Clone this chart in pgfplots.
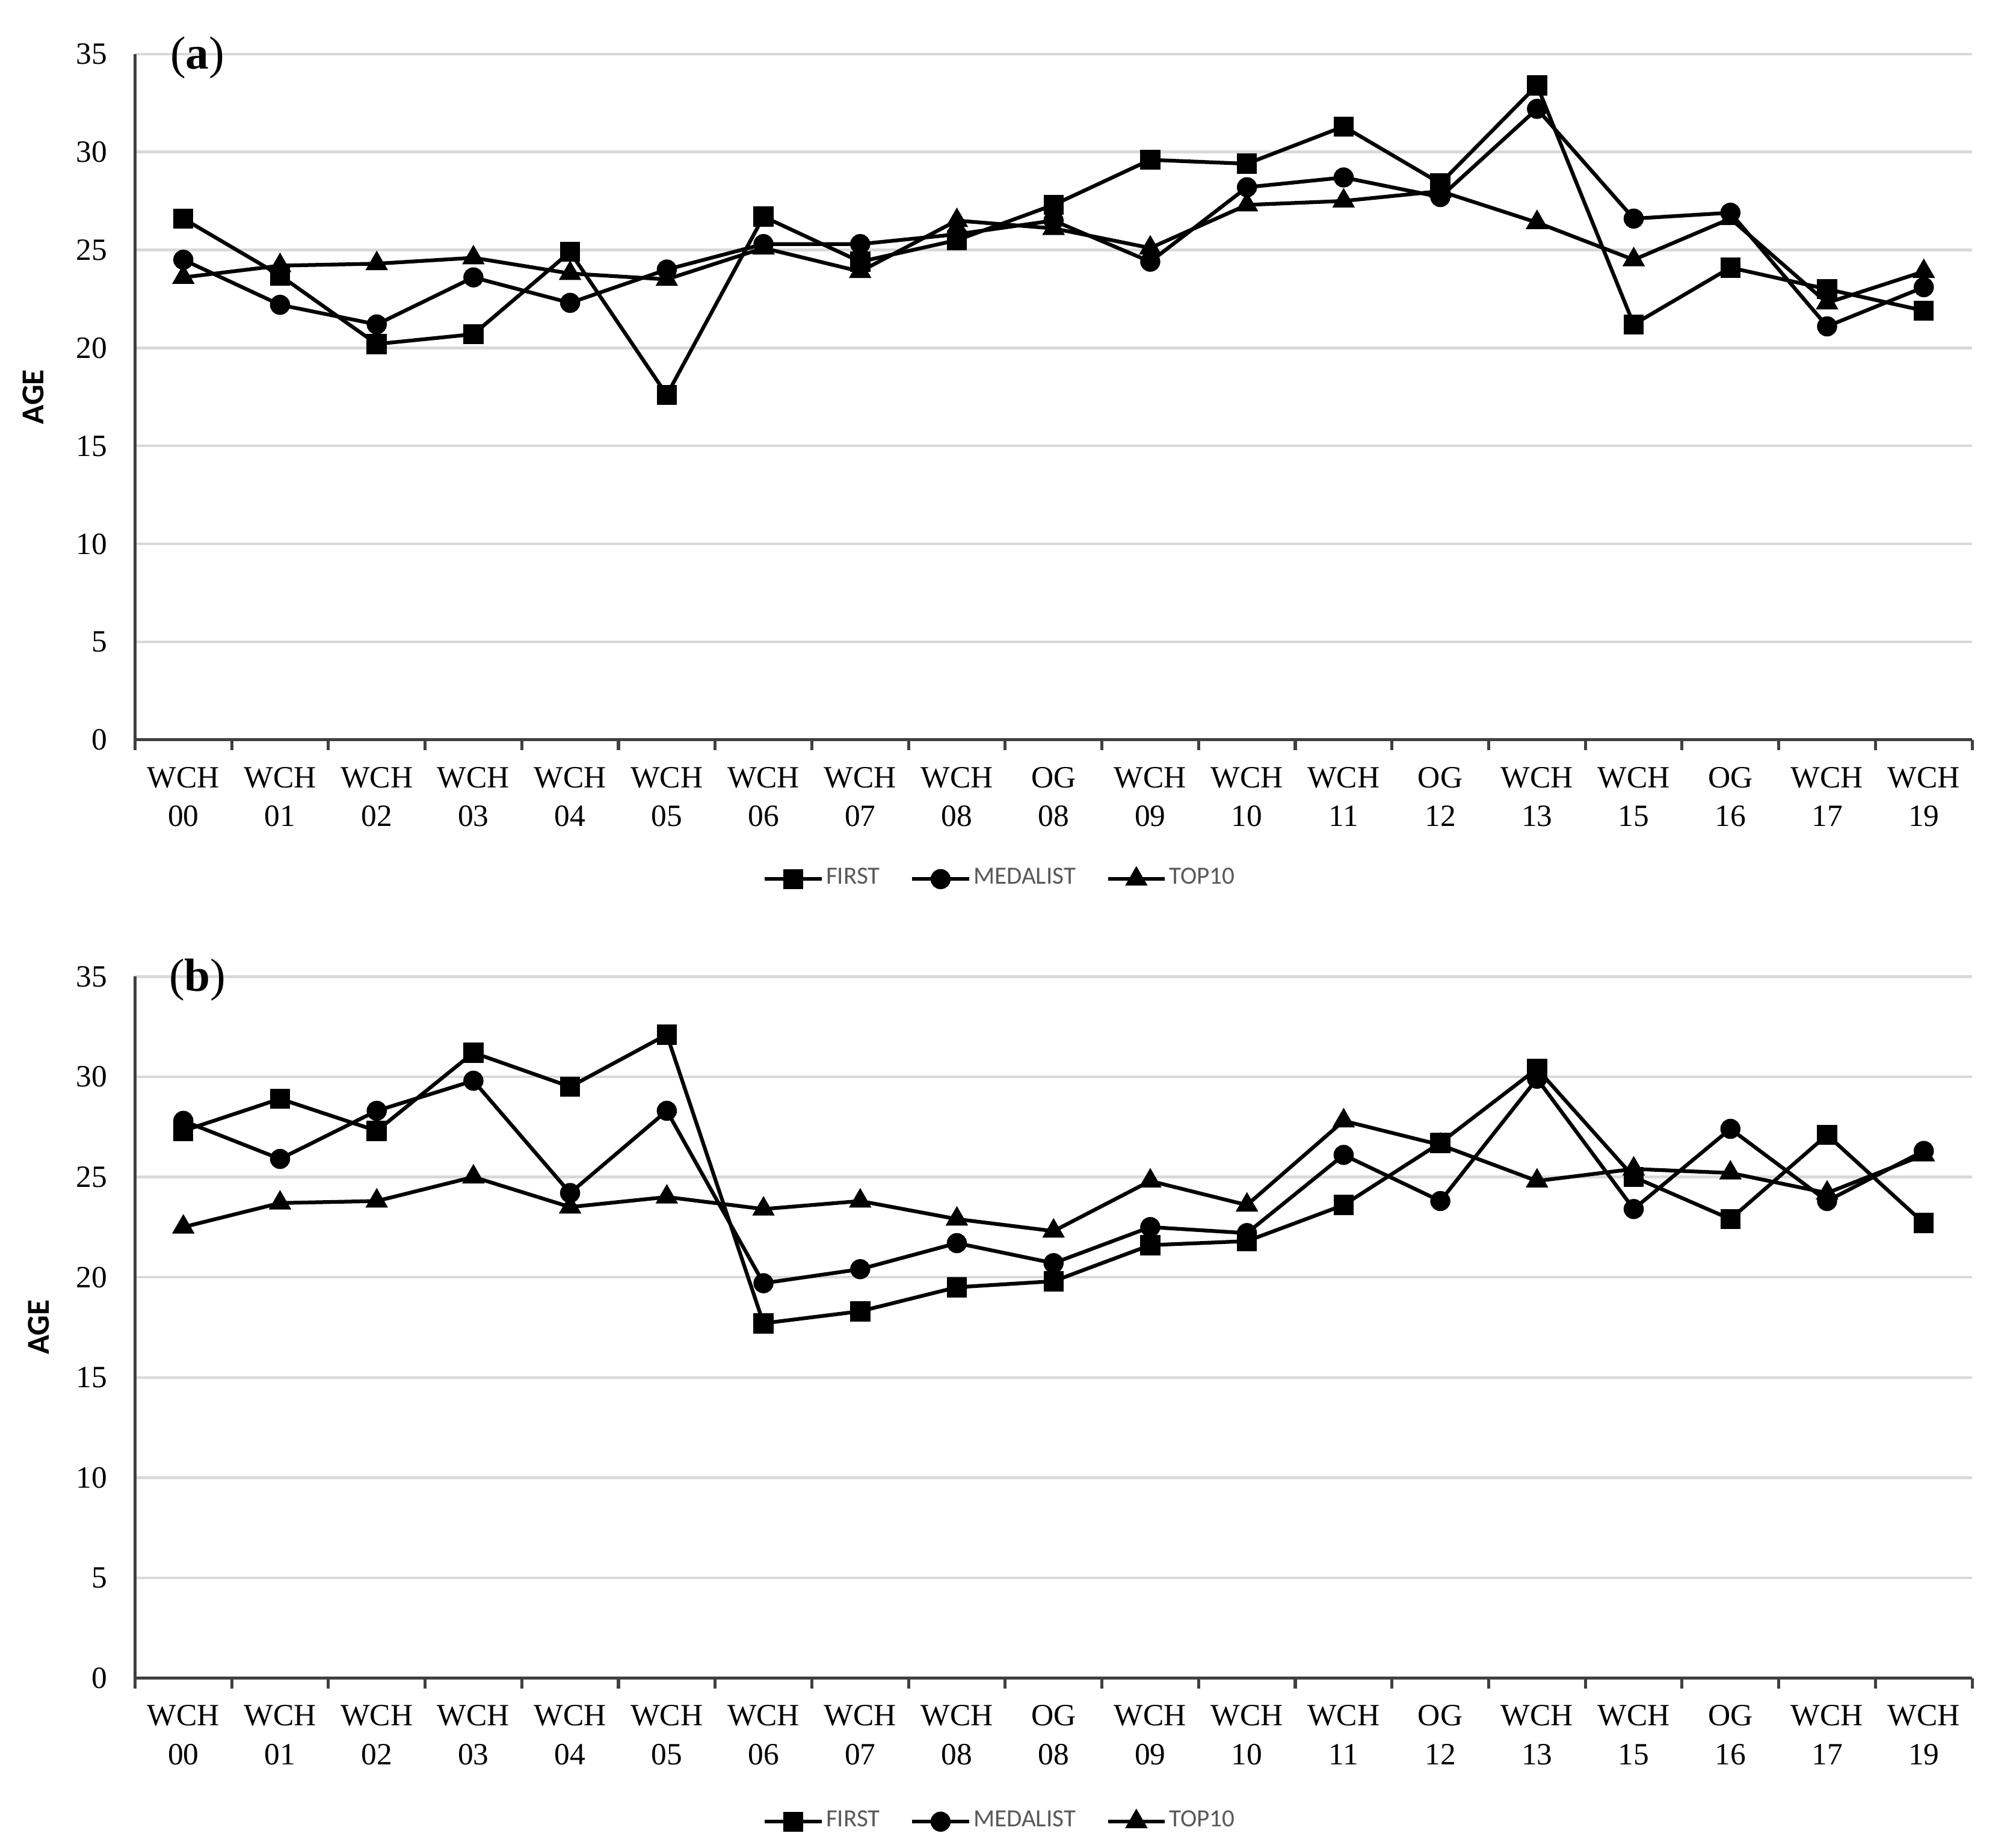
\documentclass[border=0pt]{standalone}
\usepackage{fontspec}
\setmainfont{Liberation Serif}
\newfontfamily\legendfont{Carlito}
\usepackage{pgfplots}
\usepackage{pgfplotstable}
\pgfplotsset{compat=1.18}
\definecolor{gridc}{HTML}{D9D9D9}
\definecolor{axc}{HTML}{404040}
\definecolor{legtext}{HTML}{595959}

\pgfplotstableread{
x first medal top
0 26.6 24.5 23.6
1 23.7 22.2 24.2
2 20.2 21.2 24.3
3 20.7 23.6 24.6
4 24.9 22.3 23.8
5 17.6 24.0 23.5
6 26.7 25.3 25.1
7 24.4 25.3 23.9
8 25.5 25.8 26.5
9 27.3 26.5 26.1
10 29.6 24.4 25.1
11 29.4 28.2 27.3
12 31.3 28.7 27.5
13 28.4 27.7 28.0
14 33.4 32.2 26.4
15 21.2 26.6 24.5
16 24.1 26.9 26.6
17 23.0 21.1 22.3
18 21.9 23.1 23.9
}\dataA

\pgfplotstableread{
x first medal top
0 27.3 27.8 22.5
1 28.9 25.9 23.7
2 27.3 28.3 23.8
3 31.2 29.8 25.0
4 29.5 24.2 23.5
5 32.1 28.3 24.0
6 17.7 19.7 23.4
7 18.3 20.4 23.8
8 19.5 21.7 22.9
9 19.8 20.7 22.3
10 21.6 22.5 24.8
11 21.8 22.2 23.6
12 23.6 26.1 27.8
13 26.7 23.8 26.6
14 30.4 29.9 24.8
15 25.0 23.4 25.4
16 22.9 27.4 25.2
17 27.1 23.8 24.2
18 22.7 26.3 26.1
}\dataB

\pgfplotsset{
  agestyle/.style={
    width=14.602cm, scale only axis, clip=false,
    xmin=-0.5, xmax=18.5, ymin=0, ymax=35,
    xtick={-0.5,0.5,...,18.5}, x tick label as interval,
    xticklabels={{WCH\\00},{WCH\\01},{WCH\\02},{WCH\\03},{WCH\\04},{WCH\\05},{WCH\\06},{WCH\\07},{WCH\\08},{OG\\08},{WCH\\09},{WCH\\10},{WCH\\11},{OG\\12},{WCH\\13},{WCH\\15},{OG\\16},{WCH\\17},{WCH\\19}},
    xticklabel style={align=center, font=\fontsize{7}{8.8}\selectfont, yshift=-0.3pt},
    ytick={0,5,...,35},
    yticklabel style={font=\fontsize{7}{8}\selectfont, xshift=-0.5pt},
    /pgf/number format/assume math mode=true,
    ymajorgrids, grid style={gridc, line width=0.6pt},
    axis x line*=bottom, axis y line*=left,
    axis line style={axc, line width=0.7pt, -},
    tick align=outside, major tick length=2.3pt,
    xtick style={axc, line width=0.7pt}, ytick style={draw=none},
    ylabel={AGE},
    legend columns=3,
    legend style={draw=none, fill=none, anchor=center,
      font=\legendfont\fontsize{5.6}{6}\selectfont, text=legtext,
      nodes={inner sep=0.6pt},
      /tikz/every even column/.append style={column sep=0.22cm}},
    legend image code/.code={\draw[mark repeat=2,mark phase=2,##1] plot coordinates {(0cm,0cm)(0.225cm,0cm)(0.45cm,0cm)};},
  },
  sq/.style={black, line width=0.85pt, mark=square*, mark size=1.85pt, mark options={solid}},
  ci/.style={black, line width=0.85pt, mark=*, mark size=1.85pt, mark options={solid}},
  tr/.style={black, line width=0.85pt, mark=triangle*, mark size=2.1pt, mark options={solid}},
}

\begin{document}
\begin{tikzpicture}
\path[use as bounding box] (0,0) rectangle (16,-14.685);

\begin{axis}[agestyle, height=5.452cm, at={(1.073cm,-5.881cm)}, anchor=south west,
  ylabel style={font=\legendfont\bfseries\fontsize{7.2}{8}\selectfont, at={(axis description cs:-0.0555,0.5)}, anchor=center},
  legend style={at={(axis description cs:0.471,-0.203)}}]
\addplot[sq] table[x=x, y=first] {\dataA};
\addplot[ci] table[x=x, y=medal] {\dataA};
\addplot[tr] table[x=x, y=top] {\dataA};
\legend{FIRST, MEDALIST, TOP10}
\node[font=\fontsize{10.5}{12}\selectfont, anchor=center] at (axis description cs:0.034,0.995) {(\textbf{a})};
\end{axis}

\begin{axis}[agestyle, height=5.577cm, at={(1.073cm,-13.339cm)}, anchor=south west,
  ylabel style={font=\legendfont\bfseries\fontsize{7.2}{8}\selectfont, at={(axis description cs:-0.0523,0.5)}, anchor=center},
  legend style={at={(axis description cs:0.471,-0.2046)}}]
\addplot[sq] table[x=x, y=first] {\dataB};
\addplot[ci] table[x=x, y=medal] {\dataB};
\addplot[tr] table[x=x, y=top] {\dataB};
\legend{FIRST, MEDALIST, TOP10}
\node[font=\fontsize{10.5}{12}\selectfont, anchor=center] at (axis description cs:0.034,0.995) {(\textbf{b})};
\end{axis}
\end{tikzpicture}
\end{document}
